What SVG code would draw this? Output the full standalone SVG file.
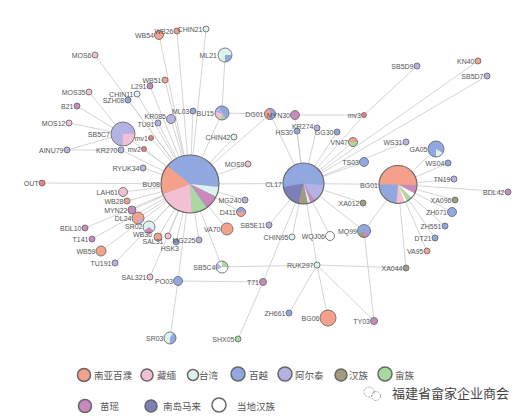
<svg xmlns="http://www.w3.org/2000/svg" width="532" height="419" viewBox="0 0 532 419">
<style>
.e{stroke:#c9c9c9;stroke-width:0.8;fill:none}
.n{stroke:#6e6e6e;stroke-width:0.9}
.o{fill:none;stroke:#6e6e6e;stroke-width:0.9}
.h{fill:none;stroke:#666;stroke-width:1.1}
.t{font-family:"Liberation Sans",Arial,sans-serif;font-size:7px;fill:#555;text-anchor:end}
.lg{font-family:"Noto Sans CJK SC","Noto Sans",sans-serif;font-size:9.5px;fill:#555}
.lc{stroke:#666;stroke-width:1.5}
.sa{fill:#f4a08a}.pk{fill:#f3bfd3}.tw{fill:#dcf2ef}.by{fill:#91a7e0}.al{fill:#b3b2e2}
.hz{fill:#a49a7c}.sh{fill:#a7d9a0}.my{fill:#c889bd}.nd{fill:#7d80b6}.lh{fill:#fff}.rd{fill:#ec7f80}
</style>
<rect width="532" height="419" fill="#fff"/>
<g id="connectors">
<path class="e" d="M190,184L159,35M190,184L177,31M190,184L206,29M190,184L165,80M190,184L150,86M190,184L137,94M190,184L128,100M190,184L193,111M190,184L222,113M190,184L171,119M190,184L158,123M190,184L123,134M190,184L151,138M190,184L144,149M190,184L121,150M190,184L143,168M190,184L42,183M190,184L123,192M190,184L127,201M190,184L132,210M190,184L138,218M190,184L149,227M190,184L158,237M190,184L168,236M190,184L176,242M190,184L199,240M190,184L234,137M190,184L248,164M190,184L245,200M190,184L241,212M190,184L227,229M190,184L222,267M190,184L178,281M190,184L303.5,183.5M190,184L270,114M190,184L95,55M190,184L85,228M190,184L92,239M190,184L101,251M190,184L115,263M190,184L150,277"/>
<path class="e" d="M123,134L89,92M123,134L77,106M123,134L69,123M123,134L67,150M67,150L121,150"/>
<path class="e" d="M225,55L222,113M222,113L270,114M270,114L303.5,183.5M295,115L303.5,183.5M295,115L364,115M417,66L364,115M364,115L303.5,183.5"/>
<path class="e" d="M303.5,183.5L297,131M303.5,183.5L317,128M303.5,183.5L337,132M303.5,183.5L353,142M303.5,183.5L478,61M303.5,183.5L487,76M303.5,183.5L364,162M303.5,183.5L406,142M303.5,183.5L398,184.5M303.5,183.5L363,203M303.5,183.5L364,231M303.5,183.5L269,225M303.5,183.5L292,237M303.5,183.5L330,236M303.5,183.5L317,265M303.5,183.5L263,282"/>
<path class="e" d="M398,184.5L436,149M398,184.5L448,163M398,184.5L454,179M398,184.5L508,192M398,184.5L455,200M398,184.5L452,212M398,184.5L445,226M398,184.5L435,238M398,184.5L427,251M398,184.5L406,268M398,184.5L364,231"/>
<path class="e" d="M222,267L317,265M317,265L406,268M317,265L289,313M317,265L328,318M317,265L374,321M374,321L364,231M178,281L170,338M178,281L263,282M263,282L238,339"/>
</g>
<g id="BU08">
<circle class="by" cx="190" cy="184" r="29"/>
<path class="tw" d="M190,184L218.84,187.03A29,29 0 0 1 216.07,196.71Z"/>
<path class="my" d="M190,184L216.07,196.71A29,29 0 0 1 206.63,207.76Z"/>
<path class="sh" d="M190,184L206.63,207.76A29,29 0 0 1 192.02,212.93Z"/>
<path class="pk" d="M190,184L192.02,212.93A29,29 0 0 1 162.75,193.92Z"/>
<path class="sa" d="M190,184L162.75,193.92A29,29 0 0 1 167.46,165.75Z"/>
<circle class="h" cx="190" cy="184" r="29"/>
<text class="t" x="160" y="187">BU08</text>
</g>
<g id="CL17">
<circle class="by" cx="303.5" cy="183.5" r="20.5"/>
<path class="al" d="M303.5,183.5L323.92,185.29A20.5,20.5 0 0 1 314.66,200.69Z"/>
<path class="my" d="M303.5,183.5L314.66,200.69A20.5,20.5 0 0 1 310.51,202.76Z"/>
<path class="tw" d="M303.5,183.5L310.51,202.76A20.5,20.5 0 0 1 307.76,203.55Z"/>
<path class="hz" d="M303.5,183.5L307.76,203.55A20.5,20.5 0 0 1 298.54,203.39Z"/>
<path class="nd" d="M303.5,183.5L298.54,203.39A20.5,20.5 0 0 1 283.31,187.06Z"/>
<circle class="h" cx="303.5" cy="183.5" r="20.5"/>
<text class="t" x="282" y="186.5">CL17</text>
</g>
<g id="BG01">
<circle class="sa" cx="398" cy="184.5" r="19"/>
<path class="my" d="M398,184.5L416.99,185.16A19,19 0 0 1 414.78,193.42Z"/>
<path class="lh" d="M398,184.5L414.78,193.42A19,19 0 0 1 411.43,197.93Z"/>
<path class="sh" d="M398,184.5L411.43,197.93A19,19 0 0 1 406.92,201.28Z"/>
<path class="lh" d="M398,184.5L406.92,201.28A19,19 0 0 1 404.5,202.35Z"/>
<path class="pk" d="M398,184.5L404.5,202.35A19,19 0 0 1 396.34,203.43Z"/>
<path class="by" d="M398,184.5L396.34,203.43A19,19 0 0 1 379,184.5Z"/>
<circle class="h" cx="398" cy="184.5" r="19"/>
<text class="t" x="378" y="187.5">BG01</text>
</g>
<g id="SB5C7">
<circle class="al" cx="123" cy="134" r="12"/>
<path class="pk" d="M123,134L135,134A12,12 0 0 1 123,146Z"/>
<circle class="o" cx="123" cy="134" r="12"/>
<text class="t" x="110" y="137">SB5C7</text>
</g>
<g id="BU15">
<circle class="by" cx="222" cy="113" r="7"/>
<path class="sh" d="M222,113L225.5,119.06A7,7 0 0 1 220.78,119.89Z"/>
<path class="pk" d="M222,113L220.78,119.89A7,7 0 0 1 215.11,111.78Z"/>
<path class="al" d="M222,113L215.11,111.78A7,7 0 0 1 219.61,106.42Z"/>
<circle class="o" cx="222" cy="113" r="7"/>
<text class="t" x="214" y="116">BU15</text>
</g>
<g id="DG01">
<circle class="by" cx="270" cy="114" r="5.5"/>
<path class="sa" d="M270,114L270,119.5A5.5,5.5 0 0 1 270,108.5Z"/>
<circle class="o" cx="270" cy="114" r="5.5"/>
<text class="t" x="263.5" y="117">DG01</text>
</g>
<g id="ML21">
<circle class="tw" cx="225" cy="55" r="7"/>
<path class="by" d="M225,55L232,55A7,7 0 0 1 225,62Z"/>
<circle class="o" cx="225" cy="55" r="7"/>
<text class="t" x="217" y="58">ML21</text>
</g>
<g id="GA05">
<circle class="by" cx="436" cy="149" r="8"/>
<path class="tw" d="M436,149L442.93,153A8,8 0 0 1 436,157Z"/>
<circle class="o" cx="436" cy="149" r="8"/>
<text class="t" x="427.5" y="152">GA05</text>
</g>
<g id="VN47">
<circle class="sa" cx="353" cy="142" r="4.5"/>
<path class="sh" d="M348.5,142A4.5,4.5 0 0 0 357.5,142Z"/>
<circle class="o" cx="353" cy="142" r="4.5"/>
<text class="t" x="348" y="145">VN47</text>
</g>
<g id="D411">
<circle class="sa" cx="241" cy="212" r="4.5"/>
<path class="by" d="M236.5,212A4.5,4.5 0 0 1 245.5,212Z"/>
<circle class="o" cx="241" cy="212" r="4.5"/>
<text class="t" x="236" y="215">D411</text>
</g>
<g id="MQ99">
<circle class="by" cx="364" cy="231" r="6.5"/>
<path class="my" d="M364,231L368.98,235.18A6.5,6.5 0 0 1 364,237.5Z"/>
<path class="hz" d="M364,231L364,237.5A6.5,6.5 0 0 1 358.37,234.25Z"/>
<circle class="o" cx="364" cy="231" r="6.5"/>
<text class="t" x="357" y="234">MQ99</text>
</g>
<g id="SR02">
<circle class="tw" cx="149" cy="227" r="6"/>
<path class="my" d="M149,227L153.6,230.86A6,6 0 0 1 144.4,230.86Z"/>
<circle class="o" cx="149" cy="227" r="6"/>
<text class="t" x="142.5" y="229">SR02</text>
</g>
<g id="DL24">
<circle class="sa" cx="138" cy="218" r="6"/>
<path class="al" d="M138,218L143.64,220.05A6,6 0 0 1 139.04,223.91Z"/>
<circle class="o" cx="138" cy="218" r="6"/>
<text class="t" x="131.5" y="220.5">DL24</text>
</g>
<g id="SB5C4">
<circle class="lh" cx="222" cy="267" r="6"/>
<path class="sh" d="M222,267L222,261A6,6 0 0 1 228,267Z"/>
<path class="al" d="M222,267L216.8,270A6,6 0 0 1 217.4,263.14Z"/>
<circle class="o" cx="222" cy="267" r="6"/>
<text class="t" x="215.5" y="270">SB5C4</text>
</g>
<g id="SR03">
<circle class="tw" cx="170" cy="338" r="6"/>
<path class="by" d="M170,338L173,332.8A6,6 0 0 1 170,344Z"/>
<circle class="o" cx="170" cy="338" r="6"/>
<text class="t" x="163.5" y="341">SR03</text>
</g>
<g id="WB54"><circle class="n sa" cx="159" cy="35" r="4.5"/><text class="t" x="154" y="38">WB54</text></g>
<g id="WB26"><circle class="n sa" cx="177" cy="31" r="3"/><text class="t" x="173.5" y="34">WB26</text></g>
<g id="CHIN21"><circle class="n tw" cx="206" cy="29" r="3"/><text class="t" x="202.5" y="32">CHIN21</text></g>
<g id="MOS6"><circle class="n pk" cx="95" cy="55" r="3"/><text class="t" x="91.5" y="58">MOS6</text></g>
<g id="WB51"><circle class="n sa" cx="165" cy="80" r="3"/><text class="t" x="161.5" y="83">WB51</text></g>
<g id="L291"><circle class="n my" cx="150" cy="86" r="3"/><text class="t" x="146.5" y="89">L291</text></g>
<g id="MOS35"><circle class="n pk" cx="89" cy="92" r="3"/><text class="t" x="85.5" y="95">MOS35</text></g>
<g id="CHIN11"><circle class="n tw" cx="137" cy="94" r="3"/><text class="t" x="133.5" y="97">CHIN11</text></g>
<g id="SZH08"><circle class="n by" cx="128" cy="100" r="3"/><text class="t" x="124.5" y="103">SZH08</text></g>
<g id="B21"><circle class="n my" cx="77" cy="106" r="3"/><text class="t" x="73.5" y="109">B21</text></g>
<g id="ML03"><circle class="n by" cx="193" cy="111" r="3"/><text class="t" x="189.5" y="114">ML03</text></g>
<g id="KR085"><circle class="n al" cx="171" cy="119" r="4.5"/><text class="t" x="166" y="118.5">KR085</text></g>
<g id="TU91"><circle class="n al" cx="158" cy="123" r="3"/><text class="t" x="154.5" y="127">TU91</text></g>
<g id="MOS12"><circle class="n pk" cx="69" cy="123" r="3"/><text class="t" x="65.5" y="126">MOS12</text></g>
<g id="mv1"><circle class="n rd" cx="151" cy="138" r="2.5"/><text class="t" x="148" y="141">mv1</text></g>
<g id="mv2"><circle class="n rd" cx="144" cy="149" r="2.5"/><text class="t" x="141" y="152">mv2</text></g>
<g id="KR270"><circle class="n al" cx="121" cy="150" r="3"/><text class="t" x="117.5" y="153">KR270</text></g>
<g id="AINU79"><circle class="n al" cx="67" cy="150" r="3"/><text class="t" x="63.5" y="153">AINU79</text></g>
<g id="RYUK34"><circle class="n al" cx="143" cy="168" r="3"/><text class="t" x="139.5" y="171">RYUK34</text></g>
<g id="OUT"><circle class="n rd" cx="42" cy="183" r="3"/><text class="t" x="38.5" y="186">OUT</text></g>
<g id="LAH61"><circle class="n pk" cx="123" cy="192" r="4.5"/><text class="t" x="118" y="195">LAH61</text></g>
<g id="WB28"><circle class="n sa" cx="127" cy="201" r="3"/><text class="t" x="123.5" y="204">WB28</text></g>
<g id="MYN22"><circle class="n my" cx="132" cy="210" r="4"/><text class="t" x="127.5" y="212.5">MYN22</text></g>
<g id="WB36"><circle class="n sa" cx="158" cy="237" r="4"/><text class="t" x="152" y="236.5">WB36</text></g>
<g id="SAL31"><circle class="n pk" cx="168" cy="236" r="3"/><text class="t" x="163.5" y="244">SAL31</text></g>
<g id="HSK3"><circle class="n by" cx="176" cy="242" r="3"/><text class="t" x="179" y="251">HSK3</text></g>
<g id="MG225"><circle class="n al" cx="199" cy="240" r="3"/><text class="t" x="195.5" y="243">MG225</text></g>
<g id="BDL10"><circle class="n my" cx="85" cy="228" r="3"/><text class="t" x="81.5" y="231">BDL10</text></g>
<g id="T141"><circle class="n my" cx="92" cy="239" r="3"/><text class="t" x="88.5" y="242">T141</text></g>
<g id="WB59"><circle class="n sa" cx="101" cy="251" r="5"/><text class="t" x="95.5" y="254">WB59</text></g>
<g id="TU191"><circle class="n al" cx="115" cy="263" r="3"/><text class="t" x="111.5" y="266">TU191</text></g>
<g id="SAL321"><circle class="n pk" cx="150" cy="277" r="3"/><text class="t" x="146.5" y="280">SAL321</text></g>
<g id="PO03"><circle class="n by" cx="178" cy="281" r="4.5"/><text class="t" x="173" y="284">PO03</text></g>
<g id="T71"><circle class="n my" cx="263" cy="282" r="3.5"/><text class="t" x="259" y="285">T71</text></g>
<g id="ZH661"><circle class="n by" cx="289" cy="313" r="3"/><text class="t" x="285.5" y="316">ZH661</text></g>
<g id="SHX05"><circle class="n sh" cx="238" cy="339" r="3"/><text class="t" x="234.5" y="342">SHX05</text></g>
<g id="RUK297"><circle class="n tw" cx="317" cy="265" r="3"/><text class="t" x="313.5" y="268">RUK297</text></g>
<g id="XA044"><circle class="n hz" cx="406" cy="268" r="3"/><text class="t" x="402.5" y="271">XA044</text></g>
<g id="BG06"><circle class="n sa" cx="328" cy="318" r="8"/><text class="t" x="319.5" y="321">BG06</text></g>
<g id="TY03"><circle class="n my" cx="374" cy="321" r="3.5"/><text class="t" x="370" y="324">TY03</text></g>
<g id="CHIN42"><circle class="n tw" cx="234" cy="137" r="3"/><text class="t" x="230.5" y="140">CHIN42</text></g>
<g id="MOS9"><circle class="n pk" cx="248" cy="164" r="3"/><text class="t" x="244.5" y="167">MOS9</text></g>
<g id="MG240"><circle class="n al" cx="245" cy="200" r="3"/><text class="t" x="241.5" y="203">MG240</text></g>
<g id="VA70"><circle class="n sa" cx="227" cy="229" r="6"/><text class="t" x="220.5" y="232">VA70</text></g>
<g id="SB5E11"><circle class="n al" cx="269" cy="225" r="3"/><text class="t" x="265.5" y="228">SB5E11</text></g>
<g id="CHIN95"><circle class="n tw" cx="292" cy="237" r="3"/><text class="t" x="288.5" y="240">CHIN95</text></g>
<g id="WQJ06"><circle class="n lh" cx="330" cy="236" r="4.5"/><text class="t" x="325" y="239">WQJ06</text></g>
<g id="MYN30"><circle class="n my" cx="295" cy="115" r="4.5"/><text class="t" x="290" y="118">MYN30</text></g>
<g id="HS30"><circle class="n by" cx="297" cy="131" r="3"/><text class="t" x="293" y="134.5">HS30</text></g>
<g id="KR274"><circle class="n al" cx="317" cy="128" r="3"/><text class="t" x="313.5" y="128.5">KR274</text></g>
<g id="GG30"><circle class="n by" cx="337" cy="132" r="3"/><text class="t" x="333.5" y="135">GG30</text></g>
<g id="TS03"><circle class="n by" cx="364" cy="162" r="4.5"/><text class="t" x="359" y="165">TS03</text></g>
<g id="mv3"><circle class="n rd" cx="364" cy="115" r="2.5"/><text class="t" x="361" y="118">mv3</text></g>
<g id="SB5D9"><circle class="n al" cx="417" cy="66" r="3"/><text class="t" x="413.5" y="69">SB5D9</text></g>
<g id="KN40"><circle class="n sa" cx="478" cy="61" r="3"/><text class="t" x="474.5" y="64">KN40</text></g>
<g id="SB5D7"><circle class="n al" cx="487" cy="76" r="3"/><text class="t" x="483.5" y="79">SB5D7</text></g>
<g id="WS31"><circle class="n al" cx="406" cy="142" r="3"/><text class="t" x="402.5" y="145">WS31</text></g>
<g id="WS04"><circle class="n by" cx="448" cy="163" r="3"/><text class="t" x="444.5" y="166">WS04</text></g>
<g id="TN19"><circle class="n al" cx="454" cy="179" r="3"/><text class="t" x="450.5" y="182">TN19</text></g>
<g id="BDL42"><circle class="n my" cx="508" cy="192" r="3"/><text class="t" x="504.5" y="195">BDL42</text></g>
<g id="XA096"><circle class="n hz" cx="455" cy="200" r="3"/><text class="t" x="451.5" y="203">XA096</text></g>
<g id="ZH071"><circle class="n by" cx="452" cy="212" r="4.5"/><text class="t" x="447" y="215">ZH071</text></g>
<g id="ZH551"><circle class="n by" cx="445" cy="226" r="3"/><text class="t" x="441.5" y="229">ZH551</text></g>
<g id="DT21"><circle class="n by" cx="435" cy="238" r="3"/><text class="t" x="431.5" y="241">DT21</text></g>
<g id="VA95"><circle class="n sa" cx="427" cy="251" r="3"/><text class="t" x="423.5" y="254">VA95</text></g>
<g id="XA012"><circle class="n hz" cx="363" cy="203" r="3"/><text class="t" x="359.5" y="206">XA012</text></g>
<g id="legend">
<circle class="lc sa" cx="84" cy="375" r="6.5"/><text class="lg" x="94" y="379">南亚百濮</text>
<circle class="lc pk" cx="147" cy="375" r="6"/><text class="lg" x="157" y="379">藏缅</text>
<circle class="lc tw" cx="193" cy="375" r="5.5"/><text class="lg" x="199" y="379">台湾</text>
<circle class="lc by" cx="238" cy="374" r="7"/><text class="lg" x="249" y="379">百越</text>
<circle class="lc al" cx="285" cy="374" r="7"/><text class="lg" x="295" y="379">阿尔泰</text>
<circle class="lc hz" cx="341" cy="375" r="6"/><text class="lg" x="349" y="379">汉族</text>
<circle class="lc sh" cx="385" cy="374" r="7"/><text class="lg" x="395" y="379">畲族</text>
<circle class="lc my" cx="85" cy="406" r="6.5"/><text class="lg" x="100" y="410">苗瑶</text>
<circle class="lc nd" cx="151" cy="406" r="6"/><text class="lg" x="163" y="410">南岛马来</text>
<circle class="lc lh" cx="219" cy="405" r="7"/><text class="lg" x="237" y="410">当地汉族</text>
</g>
<g id="watermark">
<circle cx="369" cy="392" r="5" fill="none" stroke="#999" stroke-width="0.9" stroke-dasharray="2 1.2"/>
<circle cx="376" cy="396" r="4.5" fill="none" stroke="#999" stroke-width="0.9" stroke-dasharray="2 1.2"/>
<text x="392" y="398" style="font-family:'Noto Sans CJK SC',sans-serif;font-size:13px;fill:#444">福建省畲家企业商会</text>
</g>
</svg>
